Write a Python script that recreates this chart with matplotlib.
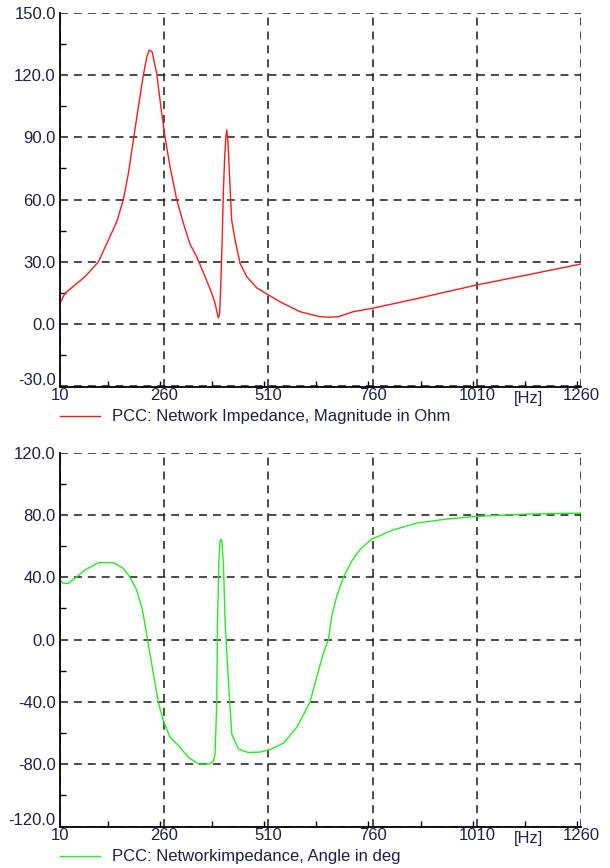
import numpy as np
import matplotlib.pyplot as plt
from matplotlib.ticker import MultipleLocator, FuncFormatter
from matplotlib.transforms import blended_transform_factory, offset_copy

plt.rcParams['font.family'] = ['Liberation Sans', 'DejaVu Sans']

# magnitude trace (Hz, Ohm)
f_mag = [10, 22, 46, 70, 102, 126, 146, 162, 174, 187, 198, 210, 218, 224, 231,
         242, 252, 262, 274, 290, 306, 322, 338, 358, 374, 382, 388, 390, 393,
         396, 399, 402, 405, 408, 410, 413, 416, 419, 422, 430, 442, 458, 482,
         510, 538, 562, 586, 634, 656, 678, 713, 758, 850, 1010, 1130, 1260]
mag = [10.1, 14.9, 18.9, 22.9, 30.0, 40.5, 49.3, 60.0, 72.6, 90.0, 104.7, 120.0,
       128.5, 132.0, 131.2, 120.8, 104.7, 90.0, 75.8, 60.0, 48.6, 38.5, 32.5,
       22.9, 14.9, 10.1, 4.5, 3.0, 5.0, 20.0, 40.0, 64.0, 80.0, 90.0, 93.5, 88.0,
       75.0, 62.0, 50.0, 40.5, 29.3, 22.9, 17.5, 14.1, 10.8, 8.4, 6.0, 3.6, 3.4,
       3.6, 6.0, 7.6, 11.6, 18.9, 23.7, 29.0]

# angle trace (Hz, deg)
f_ang = [10, 18, 30, 46, 70, 102, 138, 162, 178, 194, 208, 220, 234, 246, 258,
         274, 294, 318, 344, 368, 378, 382, 386, 388, 391, 394, 398, 402, 406,
         414, 422, 438, 462, 490, 514, 546, 578, 610, 626, 642, 654, 662, 674,
         690, 710, 730, 758, 810, 866, 938, 1010, 1130, 1260]
ang = [38.3, 36.1, 36.1, 39.4, 44.7, 49.4, 49.4, 45.8, 40.0, 31.8, 18.9, 0.0,
       -21.9, -40.3, -52.1, -62.8, -68.0, -75.6, -80.0, -80.0, -78.0, -73.5,
       -41.3, 12.5, 49.0, 64.0, 64.0, 49.0, 12.5, -26.3, -60.6, -70.3, -72.5,
       -72.2, -70.6, -66.5, -56.3, -40.0, -23.9, -8.6, 0.0, 15.0, 27.9, 40.1,
       50.4, 58.0, 64.5, 70.5, 74.8, 77.4, 79.1, 80.6, 81.2]

x_ticks = [10, 260, 510, 760, 1010, 1260]
label_color = '#202040'
fs = 12

fig = plt.figure(figsize=(6.1, 8.68), dpi=100)
ax1 = fig.add_axes([60/610, 1 - 386.5/868, 521/610, 373.8/868])
ax2 = fig.add_axes([60/610, 1 - 826.5/868, 521/610, 373.8/868])


def style(ax, ylim, ystep, legend_y):
    ymin = ylim[0]
    ax.set_xlim(10, 1260)
    ax.set_ylim(*ylim)
    ax.set_xticks(x_ticks)
    ax.xaxis.set_minor_locator(MultipleLocator(125))
    ax.yaxis.set_major_locator(MultipleLocator(ystep))
    ax.yaxis.set_minor_locator(MultipleLocator(ystep / 2))
    # lowest label is drawn separately, lifted a bit so it clears the "10"
    ax.yaxis.set_major_formatter(
        FuncFormatter(lambda v, p: '' if abs(v - ymin) < 1e-6 else f'{v:.1f}'))
    for s in ['top', 'right']:
        ax.spines[s].set_visible(False)
    for s in ['left', 'bottom']:
        ax.spines[s].set_linewidth(1.3)
    ax.tick_params(which='major', length=0, labelsize=fs, labelcolor=label_color)
    ax.tick_params(axis='y', which='major', pad=3)
    ax.tick_params(axis='x', which='major', pad=1)
    ax.tick_params(which='minor', direction='in', length=4, width=1)
    ax.grid(True, which='major', color='#1a1a1a', linewidth=1.1,
            linestyle=(0, (5.2, 3.9)))
    ax.set_axisbelow(True)
    low_tr = offset_copy(ax.transAxes, fig=fig, x=-3, y=4, units='points')
    ax.text(0, 0, f'{ymin:.1f}', transform=low_tr, ha='right', va='center',
            fontsize=fs, color=label_color)
    tr = blended_transform_factory(ax.transData, ax.transAxes)
    ax.text(1135, -0.012, '[Hz]', transform=tr, ha='center', va='top',
            fontsize=fs, color=label_color)
    leg = ax.legend(loc='center left', bbox_to_anchor=(60/610, 1 - legend_y/868),
                    bbox_transform=fig.transFigure, frameon=False, fontsize=fs,
                    handlelength=2.4, handletextpad=0.75, borderpad=0,
                    borderaxespad=0)
    for t in leg.get_texts():
        t.set_color(label_color)


ax1.plot(f_mag, mag, color='#ff1a1a', linewidth=1.0,
         label='PCC: Network Impedance, Magnitude in Ohm')
style(ax1, (-30, 150), 30, 417)

ax2.plot(f_ang, ang, color='#22ee22', linewidth=1.0,
         label='PCC: Networkimpedance, Angle in deg')
style(ax2, (-120, 120), 40, 857)

fig.savefig('out.png', dpi=100)
